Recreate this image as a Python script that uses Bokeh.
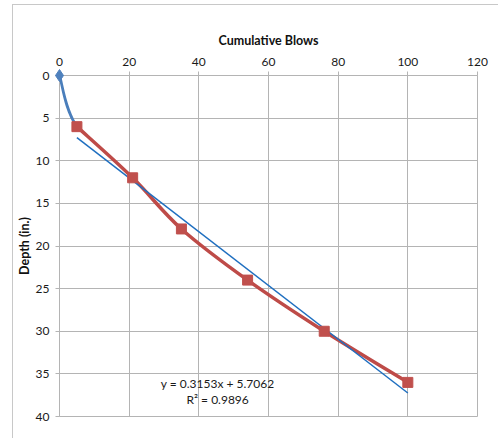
import numpy as np
from bokeh.plotting import figure
from bokeh.models import Range1d, Label, FixedTicker
from bokeh.embed import file_html
from bokeh.resources import INLINE

# ---- data ----
blows = [0, 5, 21, 35, 54, 76, 100]
depth = [0, 6, 12, 18, 24, 30, 36]
x_ticks = [0, 20, 40, 60, 80, 100, 120]
y_ticks = [0, 5, 10, 15, 20, 25, 30, 35, 40]
x_title = "Cumulative Blows"
y_title = "Depth (in.)"
trend_eq = "y = 0.3153x + 5.7062"
trend_r2 = "R² = 0.9896"


def smooth_segments(xs, ys):
    """Excel-like smoothed line: cubic Bezier segments (Catmull-Rom /6)."""
    n = len(xs)
    out = {k: [] for k in ("x0", "y0", "x1", "y1", "cx0", "cy0", "cx1", "cy1")}
    for i in range(n - 1):
        xp, yp = (xs[i - 1], ys[i - 1]) if i > 0 else (xs[i], ys[i])
        xn, yn = (xs[i + 2], ys[i + 2]) if i + 2 < n else (xs[i + 1], ys[i + 1])
        out["x0"].append(xs[i]); out["y0"].append(ys[i])
        out["x1"].append(xs[i + 1]); out["y1"].append(ys[i + 1])
        out["cx0"].append(xs[i] + (xs[i + 1] - xp) / 6.0)
        out["cy0"].append(ys[i] + (ys[i + 1] - yp) / 6.0)
        out["cx1"].append(xs[i + 1] - (xn - xs[i]) / 6.0)
        out["cy1"].append(ys[i + 1] - (yn - ys[i]) / 6.0)
    return out


grid_col = "#B4B4B4"
label_font = "Lato"

p = figure(width=486, height=434,
           x_range=Range1d(0, 120), y_range=Range1d(40, 0),
           x_axis_location="above",
           output_backend="svg", toolbar_location=None,
           min_border_left=46, min_border_right=22,
           min_border_top=70, min_border_bottom=23,
           background_fill_color="white", border_fill_color="white",
           styles={"margin-left": "12px", "margin-top": "4px",
                   "border-left": "1px solid #C8C8C8",
                   "border-top": "1px solid #C8C8C8"})
p.outline_line_color = grid_col

for ax in (p.xaxis[0], p.yaxis[0]):
    ax.axis_line_color = grid_col
    ax.major_tick_line_color = grid_col
    ax.major_tick_out = 4
    ax.major_tick_in = 0
    ax.minor_tick_line_color = None
    ax.major_label_text_font = label_font
    ax.major_label_text_font_size = "12px"
    ax.major_label_text_color = "#1A1A1A"
    ax.axis_label_text_font = label_font
    ax.axis_label_text_font_size = "12.5px"
    ax.axis_label_text_font_style = "bold"
    ax.axis_label_text_color = "#111111"

p.xaxis.ticker = FixedTicker(ticks=x_ticks)
p.yaxis.ticker = FixedTicker(ticks=y_ticks)
p.xaxis.axis_label = x_title
p.yaxis.axis_label = y_title
p.xaxis.major_label_standoff = 6
p.xaxis.axis_label_standoff = 7
p.yaxis.major_label_standoff = 6
p.yaxis.axis_label_standoff = 1

p.xgrid.ticker = FixedTicker(ticks=x_ticks)
p.ygrid.ticker = FixedTicker(ticks=y_ticks)
p.xgrid.grid_line_color = grid_col
p.ygrid.grid_line_color = grid_col

# blue series (full data, smoothed) - only first segment is visible
blue = smooth_segments(blows, depth)
p.bezier(x0=blue["x0"][:1], y0=blue["y0"][:1], x1=blue["x1"][:1], y1=blue["y1"][:1],
         cx0=blue["cx0"][:1], cy0=blue["cy0"][:1], cx1=blue["cx1"][:1], cy1=blue["cy1"][:1],
         line_color="#4A7EBB", line_width=2.75)
dia = p.scatter([blows[0]], [depth[0]], marker="diamond", size=12,
                fill_color="#4F81BD", line_color="#4F81BD")
dia.level = "overlay"

# red series (without the origin point), smoothed
red_x = blows[1:]
red_y = depth[1:]
red = smooth_segments(red_x, red_y)
p.bezier(x0="x0", y0="y0", x1="x1", y1="y1", cx0="cx0", cy0="cy0",
         cx1="cx1", cy1="cy1", source=red,
         line_color="#BE4B48", line_width=3.5)

# linear trendline of red series
coef = np.polyfit(red_x, red_y, 1)
tx = np.array([min(red_x), max(red_x)], dtype=float)
ty = np.polyval(coef, tx)
p.line(tx, ty, line_color="#1F6FC0", line_width=1.5)

p.scatter(red_x, red_y, marker="square", size=10,
          fill_color="#C0504D", line_color="#C0504D")

p.add_layout(Label(x=45.4, y=36.1, text=trend_eq, text_align="center",
                   text_baseline="middle", text_font=label_font,
                   text_font_size="12px", text_color="#1A1A1A"))
p.add_layout(Label(x=45.4, y=38.0, text=trend_r2, text_align="center",
                   text_baseline="middle", text_font=label_font,
                   text_font_size="12px", text_color="#1A1A1A"))

open("out.html", "w").write(file_html(p, INLINE))
